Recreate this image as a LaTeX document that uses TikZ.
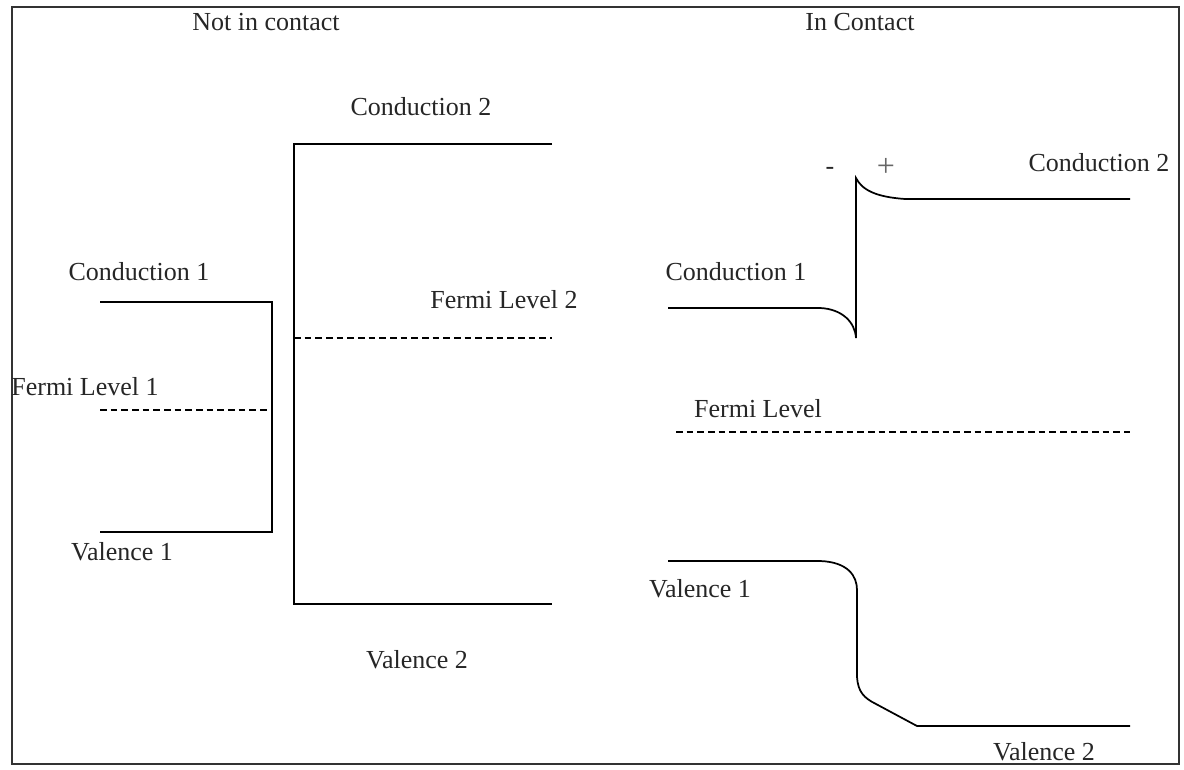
\documentclass[tikz,border=0pt]{standalone}
\usepackage{fontspec}
\setmainfont{Liberation Serif}

\begin{document}
\begin{tikzpicture}[
    x=0.75pt, y=-0.75pt,
    frame/.style={line width=1.5pt, draw=black!80},
    band/.style={line width=1.3pt, draw=black},
    fermi/.style={line width=1.2pt, draw=black, dash pattern=on 5pt off 3pt},
    lbl/.style={font=\fontsize{19.5}{23}\selectfont, inner sep=0pt, text=black!85}
]
\useasboundingbox (0,0) rectangle (1184,770);

% Outer frame
\draw[frame] (12,7) rectangle (1179,764);

% Headings
\node[lbl] (apart) at (266,22) {Not in contact};
\node[lbl] (joined) at (860,22) {In Contact};

% Separate materials: band edges
\draw[band] (100,302) -- (272,302) -- (272,532) -- (100,532);
\draw[fermi] (100,410) -- (268,410);
\draw[band] (552,144) -- (294,144) -- (294,604) -- (552,604);
\draw[fermi] (294,338) -- (552,338);

\node[lbl] (cbA) at (139,272) {Conduction 1};
\node[lbl] (efA) at (85,387) {Fermi Level 1};
\node[lbl] (vbA) at (122,552) {Valence 1};
\node[lbl] (cbB) at (421,107) {Conduction 2};
\node[lbl] (efB) at (504,300) {Fermi Level 2};
\node[lbl] (vbB) at (417,660) {Valence 2};

% Materials in contact: bent bands
\draw[band] (668,308) -- (820,308)
    .. controls (842,309) and (855,322) .. (856,338)
    -- (856,178)
    .. controls (862,190) and (876,197) .. (905,199)
    -- (1130,199);
\draw[fermi] (676,432) -- (1130,432);
\draw[band] (668,561) -- (820,561)
    .. controls (848,562) and (857,576) .. (857,590)
    -- (857,677)
    .. controls (858,692) and (864,698) .. (876,704)
    -- (917,726) -- (1130,726);

\node[lbl] (cbC) at (736,272) {Conduction 1};
\node[lbl] (cbD) at (1099,163) {Conduction 2};
\node[lbl] (efC) at (758,409) {Fermi Level};
\node[lbl] (vbC) at (700,589) {Valence 1};
\node[lbl] (vbD) at (1044,752) {Valence 2};

% Interface charges
\node[lbl] (neg) at (830,171) {-};
\node[lbl, font=\fontsize{24}{28}\selectfont, text=black!60] (pos) at (886,167) {+};

\end{tikzpicture}
\end{document}
